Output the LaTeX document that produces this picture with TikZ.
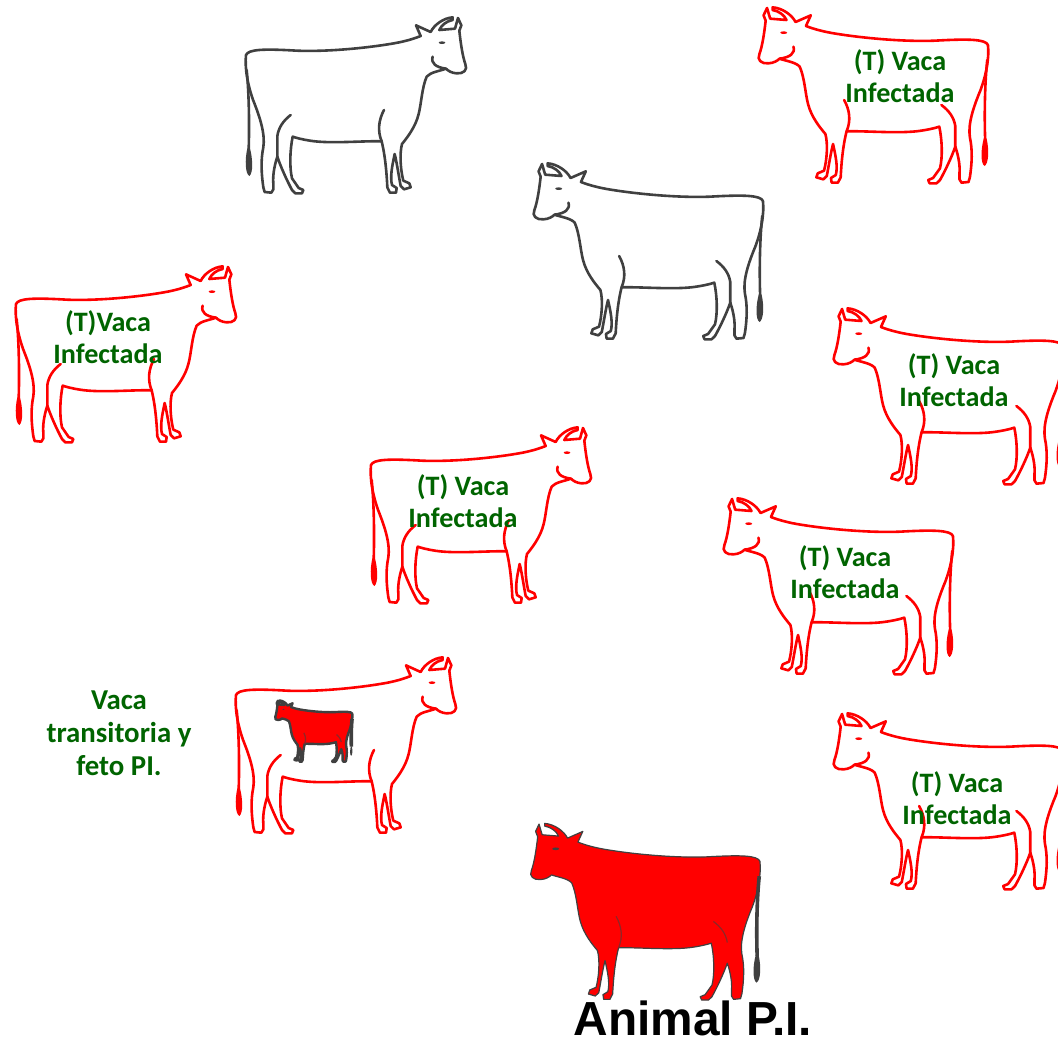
\documentclass[tikz,border=0pt]{standalone}
\usepackage{fontspec}
\newfontfamily\labelfont{Carlito}
\newfontfamily\titlefont{Liberation Sans}

\definecolor{cowgray}{RGB}{64,64,64}
\definecolor{cowred}{RGB}{255,0,0}
\definecolor{labelgreen}{RGB}{0,100,0}

% cow seen from the side, head to the right
\newcommand{\cowshape}{(48,135) .. controls (55,118) and (100,116) .. (200,122)
 .. controls (300,126) and (420,112) .. (480,102)
 .. controls (525,95) and (552,86) .. (572,78)
 -- (558,46) -- (602,66)
 .. controls (612,45) and (640,24) .. (668,22)
 -- (668,30) .. controls (648,34) and (634,46) .. (628,60)
 -- (675,56) -- (684,24) -- (694,46) -- (688,62)
 .. controls (692,100) and (698,140) .. (706,162)
 .. controls (714,180) and (700,192) .. (680,190)
 .. controls (665,189) and (655,183) .. (648,176)
 .. controls (630,183) and (602,186) .. (590,200)
 .. controls (576,232) and (574,280) .. (566,312)
 .. controls (556,352) and (532,382) .. (516,402)
 .. controls (508,432) and (512,482) .. (520,512)
 -- (538,520) -- (542,532) -- (522,538) -- (512,528)
 .. controls (505,490) and (500,456) .. (494,432)
 .. controls (486,470) and (480,500) .. (486,525)
 -- (500,534) -- (498,548) -- (480,548) -- (472,532)
 .. controls (470,490) and (466,440) .. (455,394)
 .. controls (400,392) and (300,402) .. (240,392)
 .. controls (215,388) and (200,384) .. (188,380)
 .. controls (180,420) and (178,470) .. (186,505)
 -- (206,534) -- (220,540) -- (216,550) -- (196,550) -- (186,540)
 .. controls (170,510) and (152,470) .. (142,440)
 .. controls (132,470) and (128,500) .. (130,520)
 -- (130,538) -- (124,548) -- (104,546) -- (100,532)
 .. controls (94,490) and (92,450) .. (100,412)
 .. controls (106,372) and (90,322) .. (70,272)
 .. controls (52,222) and (44,172) .. (48,135) -- cycle}
\newcommand{\cowtail}{(50,180) .. controls (58,260) and (58,360) .. (56,418)}
\newcommand{\cowtuft}{(52,415) .. controls (44,450) and (46,492) .. (58,498) .. controls (70,490) and (68,445) .. (60,415) -- cycle}

\tikzset{
  cow line/.style={line width=0.065cm, line join=round, line cap=round},
  cow label/.style={font=\labelfont\bfseries\fontsize{20}{22.8}\selectfont, text=labelgreen, align=center, inner sep=0pt},
  pics/cow/.style={code={
    \draw[cow line] \cowshape;
    \draw[cow line] (462,300) .. controls (446,330) and (442,362) .. (455,394);
    \draw[cow line] (182,315) .. controls (160,332) and (146,352) .. (142,378) -- (142,440);
    \draw[cow line] (608,140) .. controls (602,160) and (618,172) .. (648,176);
    \fill (636,98) ellipse [x radius=10, y radius=4];
    \draw[cow line] \cowtail;
    \fill \cowtuft;
  }},
  pics/solidcow/.style={code={
    \filldraw[fill=cowred, draw=cowgray, line join=round] \cowshape;
    \draw[cowgray!60!cowred, line width=0.03cm] (462,300) .. controls (446,330) and (442,362) .. (455,394);
    \draw[cowgray!60!cowred, line width=0.03cm] (182,315) .. controls (160,332) and (146,352) .. (142,378);
    \fill[cowgray] (636,98) ellipse [x radius=10, y radius=4];
    \draw[cowgray, line width=0.09cm] \cowtail;
    \fill[cowgray] \cowtuft;
  }},
}

\begin{document}
\begin{tikzpicture}[x=0.025cm, y=-0.025cm]
\useasboundingbox (0,0) rectangle (1058,1046);
\clip (0,0) rectangle (1058,1046);

% cows looking right
\pic[color=cowgray, scale=1/3] at (230,10) {cow};
\pic[color=cowred, scale=1/3] at (0,259) {cow};
\pic[color=cowred, scale=1/3] at (355,420) {cow};
\pic[color=cowred, scale=1/3] at (220,650) {cow};

% cows looking left
\pic[color=cowred, xscale=-0.3473, yscale=1/3] at (1004.6,0) {cow};
\pic[color=cowgray, xscale=-0.3473, yscale=1/3] at (779.6,156) {cow};
\pic[color=cowred, xscale=-0.3473, yscale=1/3] at (1079.6,301) {cow};
\pic[color=cowred, xscale=-0.3473, yscale=1/3] at (969.6,491) {cow};
\pic[color=cowred, xscale=-0.3473, yscale=1/3] at (1079.6,706) {cow};

% calf inside the mother, and the P.I. animal
\pic[xscale=-0.117, yscale=0.1165, line width=0.06cm] at (357.9,697.9) {solidcow};
\pic[xscale=-0.3473, yscale=0.3346, line width=0.03cm] at (776.6,816) {solidcow};

\path (900,76) node[cow label] (tr) {(T) Vaca\\Infectada};
\path (108,337) node[cow label] (lf) {(T)Vaca\\Infectada};
\path (954,380) node[cow label] (rt) {(T) Vaca\\Infectada};
\path (463,501) node[cow label] (md) {(T) Vaca\\Infectada};
\path (845,572) node[cow label] (rm) {(T) Vaca\\Infectada};
\path (957,798) node[cow label] (br) {(T) Vaca\\Infectada};
\path (119,733) node[cow label, font=\labelfont\bfseries\fontsize{20.5}{23.5}\selectfont] (tv) {Vaca\\transitoria y\\feto PI.};
\path (693,1035) node[anchor=base, inner sep=0pt, font=\titlefont\bfseries\fontsize{34}{34}\selectfont] (pi) {Animal P.I.};
\end{tikzpicture}
\end{document}
